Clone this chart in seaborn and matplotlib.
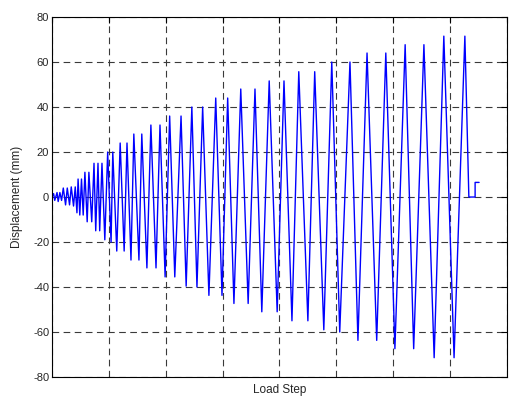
import numpy as np
import pandas as pd
import matplotlib.pyplot as plt
import seaborn as sns

# turning points of the displacement history (load step, displacement in mm)
load_step = [0, 3, 5, 9, 11, 14, 17, 20, 24, 27, 31, 34, 38, 41, 44, 46, 49, 52, 55,
             58, 62, 65, 70, 74, 77, 81, 84, 88, 93, 98, 104, 107, 114, 120, 127,
             132, 139, 144, 153, 158, 167, 174, 183, 190, 199, 207, 216, 227, 236,
             246, 255, 265, 276, 288, 299, 309, 320, 332, 345, 357, 369, 382, 396,
             408, 422, 434, 450, 462, 478, 492, 506, 524, 538, 554, 571, 587, 603,
             621, 636, 654, 672, 689, 707, 726, 733, 744, 744, 751]
displacement = [0, 1.5, -1.5, 2, -2, 2, -1.5, 4, -3.5, 4, -3.5, 4.5, -4, 4.5, -7, 8, -8,
                8, -8, 11, -11, 11, -11, 15, -15, 15, -15, 15, -19, 20, -20, 20, -24,
                24, -24, 24, -28, 28, -28, 28, -31.5, 32, -31.5, 32, -35.5, 36, -35.5,
                36, -39.6, 40, -40, 40, -43.7, 44, -43.7, 44, -47.3, 48, -47.3, 48,
                -51, 51.6, -51, 51.6, -55, 55.7, -55, 55.7, -59, 60, -60, 60, -63.7,
                64, -63.7, 64, -67.4, 67.7, -67.4, 67.7, -71.4, 71.5, -71.4, 71.5,
                0, 0, 6.5, 6.5]

y_ticks = [-80, -60, -40, -20, 0, 20, 40, 60, 80]
x_ticks = [0, 100, 200, 300, 400, 500, 600, 700, 800]

df = pd.DataFrame({"step": load_step, "disp": displacement})

sns.set_style("white")
plt.rcParams['font.family'] = ['Liberation Sans', 'DejaVu Sans']

fig = plt.figure(figsize=(5.09, 4.05), dpi=100)
ax = fig.add_axes([0.102, 0.069, 0.894, 0.889])

sns.lineplot(data=df, x="step", y="disp", sort=False, estimator=None,
             color="#0000ff", linewidth=1.0, ax=ax)

ax.set_xlim(0, 800)
ax.set_ylim(-80, 80)
ax.set_xticks(x_ticks)
ax.set_xticklabels([])
ax.set_yticks(y_ticks)
ax.set_yticklabels([str(t) for t in y_ticks], fontsize=8)
ax.tick_params(direction="in", length=4, width=0.8, top=True, right=True,
               color="black", pad=2)
ax.grid(True, color="#3a3a3a", linestyle=(0, (6, 4)), linewidth=0.8)
for s in ax.spines.values():
    s.set_color("black")
    s.set_linewidth(0.8)

ax.set_xlabel("Load Step", fontsize=8.5, labelpad=3)
ax.set_ylabel("Displacement (mm)", fontsize=8.5, labelpad=7)

fig.savefig("out.png", dpi=100)
